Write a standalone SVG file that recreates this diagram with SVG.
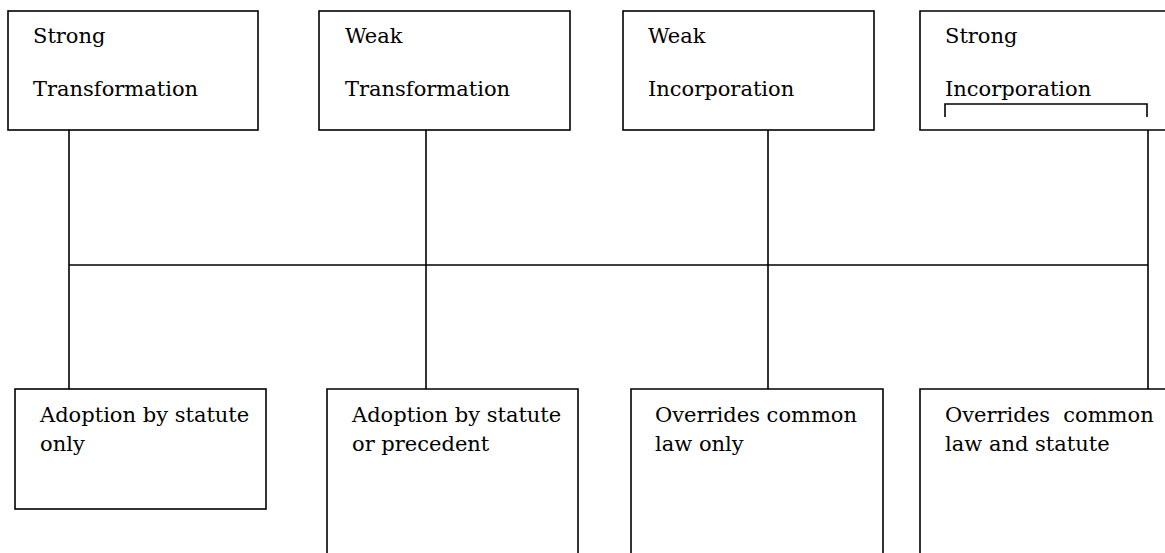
<svg xmlns="http://www.w3.org/2000/svg" width="1165" height="553" viewBox="0 0 1165 553" font-family="DejaVu Serif, serif">
<style>
.box{fill:#fff;stroke:#000;stroke-width:1.6}
.ln{fill:none;stroke:#000;stroke-width:1.6}
.t{font-size:21px;fill:#000;white-space:pre}
</style>
<rect width="1165" height="553" fill="#fff"/>
<g id="connectors">
<line class="ln" x1="69" y1="130" x2="69" y2="389"/>
<line class="ln" x1="426" y1="130" x2="426" y2="389"/>
<line class="ln" x1="768" y1="130" x2="768" y2="389"/>
<line class="ln" x1="1148" y1="130" x2="1148" y2="389"/>
<line class="ln" x1="69" y1="265" x2="1148" y2="265"/>
</g>
<g id="strong-transformation">
<rect class="box" x="8" y="11" width="250" height="119"/>
<text class="t" x="33" y="43">Strong</text>
<text class="t" x="33" y="96">Transformation</text>
</g>
<g id="weak-transformation">
<rect class="box" x="319" y="11" width="251" height="119"/>
<text class="t" x="345" y="43">Weak</text>
<text class="t" x="345" y="96">Transformation</text>
</g>
<g id="weak-incorporation">
<rect class="box" x="623" y="11" width="251" height="119"/>
<text class="t" x="648" y="43">Weak</text>
<text class="t" x="648" y="96">Incorporation</text>
</g>
<g id="strong-incorporation">
<path class="ln" d="M1170,11 H920 V130 H1170" style="fill:#fff"/>
<text class="t" x="945" y="43">Strong</text>
<text class="t" x="945" y="96">Incorporation</text>
<path class="ln" d="M945,117 V104 H1147 V117"/>
</g>
<g id="adoption-statute-only">
<rect class="box" x="15" y="389" width="251" height="120"/>
<text class="t" x="40" y="422">Adoption by statute</text>
<text class="t" x="40" y="451">only</text>
</g>
<g id="adoption-statute-precedent">
<path class="box" d="M327,560 V389 H578 V560"/>
<text class="t" x="352" y="422">Adoption by statute</text>
<text class="t" x="352" y="451">or precedent</text>
</g>
<g id="overrides-common-law">
<path class="box" d="M631,560 V389 H883 V560"/>
<text class="t" x="655" y="422">Overrides common</text>
<text class="t" x="655" y="451">law only</text>
</g>
<g id="overrides-law-statute">
<path class="box" d="M920,560 V389 H1170"/>
<text class="t" x="945" y="422">Overrides  common</text>
<text class="t" x="945" y="451">law and statute</text>
</g>
</svg>
